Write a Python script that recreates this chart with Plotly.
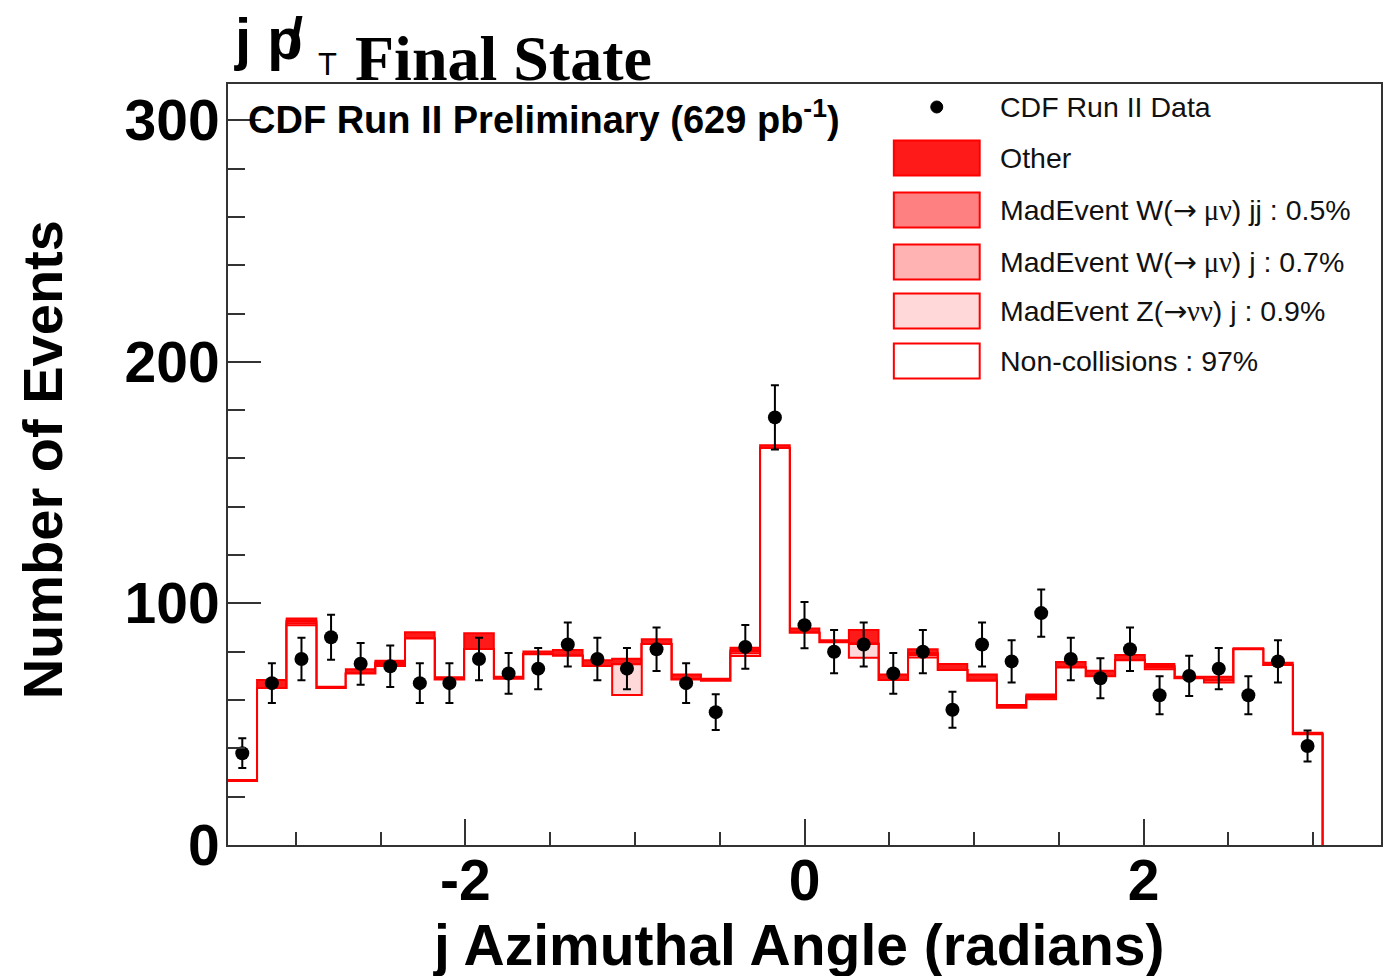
import numpy as np
import plotly.graph_objects as go

# ---------------- data ----------------
bin_range = (-3.403, 3.054)
n_bins = 37
data_counts = [38, 67, 77, 86, 75, 74, 67, 67, 77, 71, 73, 83, 77, 73, 81, 67, 55, 82, 177,
               91, 80, 83, 71, 80, 56, 83, 76, 96, 77, 69, 81, 62, 70, 73, 62, 76, 41]
noncoll = [26.5, 65.0, 91.0, 65.0, 71.0, 74.1, 85.5, 68.5, 81.1, 68.8, 79.0, 78.3, 74.1, 62.1,
           83.2, 68.5, 68.0, 78.2, 164.3, 87.9, 83.9, 77.5, 68.3, 77.6, 72.4, 68.0, 56.8, 60.3,
           73.5, 69.9, 76.5, 72.7, 69.0, 67.3, 81.0, 74.5, 45.8]
z_nunu = [0, 0, 0.8, 0, 0, 0.8, 0, 0, 0, 0, 0, 0, 0, 12.7, 0, 0, 0, 1.2, 0,
          0, 0, 5.7, 0, 1.0, 0, 0, 0, 0.7, 0, 0, 0, 0.8, 0, 0.8, 0, 0, 0]
w_j = [0, 0, 0.7, 0, 0, 0.5, 0, 0, 0, 0, 0, 0, 0, 0, 0, 0, 0, 0.8, 0,
       0, 0, 0, 0, 0.8, 0, 0, 0, 0.6, 0, 0, 0, 0.6, 0, 0, 0, 0, 0]
w_jj = [0, 0, 0.3, 0, 0, 0, 0, 0, 0, 0, 0, 0, 0, 0, 0, 0, 0, 0.4, 0,
        0, 0, 0.3, 0, 0, 0, 0, 0, 0, 0, 0, 0, 0, 0, 0, 0, 0, 0]
other = [0.4, 3.3, 1.0, 0.5, 1.7, 0.9, 2.6, 0.9, 6.5, 0.8, 1.1, 2.4, 2.4, 2.3, 2.0, 2.1, 0.8,
         1.0, 1.2, 1.7, 0.9, 5.5, 2.3, 1.6, 2.5, 2.6, 1.1, 0.7, 2.3, 2.2, 2.1, 0.8, 0.6, 1.5,
         0.4, 0.9, 0.7]

x_tickvals = [-2, 0, 2]
x_ticktext = ["-2", "0", "2"]
y_tickvals = [0, 100, 200, 300]
y_ticktext = ["0", "100", "200", "300"]

ARROW = "<span style=\"font-family:'DejaVu Sans'\">\u2192</span>"
GREEK = "<span style=\"font-family:'Liberation Serif'\">{}</span>"
legend_labels = [
    "CDF Run II Data",
    "Other",
    "MadEvent W(" + ARROW + GREEK.format(" \u03bc\u03bd") + ") jj : 0.5%",
    "MadEvent W(" + ARROW + GREEK.format(" \u03bc\u03bd") + ") j : 0.7%",
    "MadEvent Z(" + ARROW + GREEK.format("\u03bd\u03bd") + ") j : 0.9%",
    "Non-collisions : 97%",
]

# ---------------- styling ----------------
RED = "#ff0000"
col_other = "#ff1a1a"
col_wjj = "#ff8080"
col_wj = "#ffb3b3"
col_z = "#ffd9d9"
col_nc = "#ffffff"

W, H = 1391, 976
L, R, T, B = 228, 1383, 84, 845


def px2x(px):
    return (px - L) / (R - L)


def py2y(py):
    return (B - py) / (B - T)


edges = np.linspace(bin_range[0], bin_range[1], n_bins + 1)
centers = 0.5 * (edges[:-1] + edges[1:])

comps = [np.array(noncoll), np.array(z_nunu), np.array(w_j), np.array(w_jj), np.array(other)]
cum = np.cumsum(np.vstack(comps), axis=0)
fills = [col_nc, col_z, col_wj, col_wjj, col_other]

fig = go.Figure()

# draw from the top of the stack downward (ROOT THStack style)
for level in range(4, -1, -1):
    vals = cum[level]
    xs = list(edges) + [edges[-1]]
    ys = list(vals) + [vals[-1], 0]
    fig.add_trace(go.Scatter(
        x=xs, y=ys, mode="lines", line=dict(color=RED, width=2, shape="hv"),
        fill="tozeroy", fillcolor=fills[level], showlegend=False, hoverinfo="skip"))

data = np.array(data_counts, dtype=float)
fig.add_trace(go.Scatter(
    x=centers, y=data, mode="markers",
    marker=dict(color="black", size=14, symbol="circle"),
    error_y=dict(type="data", array=np.sqrt(data), color="black", thickness=2, width=4),
    showlegend=False))

font_sans = "Liberation Sans, Arial, sans-serif"

fig.update_layout(
    width=W, height=H,
    margin=dict(l=L, r=W - R, t=T, b=H - B, pad=0),
    paper_bgcolor="white", plot_bgcolor="white",
    showlegend=False,
    xaxis=dict(range=[-3.4, 3.4], showgrid=False, zeroline=False,
               showline=True, linecolor="#333333", linewidth=2, mirror=True,
               ticks="inside", ticklen=26, tickwidth=2, tickcolor="#333333",
               tickvals=x_tickvals, ticktext=x_ticktext, ticklabelstandoff=-15,
               tickfont=dict(family=font_sans, size=57, color="black", weight="bold"),
               minor=dict(dtick=0.5, tick0=0, ticks="inside", ticklen=13, tickwidth=2,
                          tickcolor="#333333", showgrid=False)),
    yaxis=dict(range=[0, 315], showgrid=False, zeroline=False,
               showline=True, linecolor="#333333", linewidth=2, mirror=True,
               ticks="inside", ticklen=33, tickwidth=2, tickcolor="#333333",
               tickvals=y_tickvals, ticktext=y_ticktext, ticklabelstandoff=-5,
               tickfont=dict(family=font_sans, size=57, color="black", weight="bold"),
               minor=dict(dtick=20, tick0=0, ticks="inside", ticklen=17, tickwidth=2,
                          tickcolor="#333333", showgrid=False)),
)

ann = []
# axis titles
ann.append(dict(text="<b>j Azimuthal Angle (radians)</b>", x=px2x(800), y=py2y(945),
                xref="paper", yref="paper", xanchor="center", yanchor="middle",
                showarrow=False, font=dict(family=font_sans, size=57, color="black")))
ann.append(dict(text="<b>Number of Events</b>", x=px2x(42), y=py2y(460), textangle=-90,
                xref="paper", yref="paper", xanchor="center", yanchor="middle",
                showarrow=False, font=dict(family=font_sans, size=56, color="black")))
# title pieces
ann.append(dict(text="<b>j p</b>", x=px2x(232), y=py2y(38),
                xref="paper", yref="paper", xanchor="left", yanchor="middle",
                showarrow=False, font=dict(family=font_sans, size=58, color="black")))
ann.append(dict(text="/", x=px2x(296), y=py2y(36),
                xref="paper", yref="paper", xanchor="center", yanchor="middle",
                showarrow=False, font=dict(family=font_sans, size=54, color="black",
                                           weight="bold")))
ann.append(dict(text="T", x=px2x(316), y=py2y(65),
                xref="paper", yref="paper", xanchor="left", yanchor="middle",
                showarrow=False, font=dict(family=font_sans, size=31, color="black")))
ann.append(dict(text="<b>Final State</b>", x=px2x(353), y=py2y(58),
                xref="paper", yref="paper", xanchor="left", yanchor="middle",
                showarrow=False, font=dict(family="Liberation Serif, Times New Roman, serif",
                                           size=64, color="black")))
# CDF label
ann.append(dict(text="<b>CDF Run II Preliminary (629 pb<sup>-1</sup>)</b>",
                x=px2x(246), y=py2y(117),
                xref="paper", yref="paper", xanchor="left", yanchor="middle",
                showarrow=False, font=dict(family=font_sans, size=38, color="black")))

# custom legend
row_y = [107, 158, 210, 262, 311, 361]
shapes = []
box_cols = [None, col_other, col_wjj, col_wj, col_z, col_nc]
for i, (lab, yc) in enumerate(zip(legend_labels, row_y)):
    ann.append(dict(text=lab, x=px2x(999), y=py2y(yc),
                    xref="paper", yref="paper", xanchor="left", yanchor="middle",
                    showarrow=False, font=dict(family=font_sans, size=28.5, color="#111111")))
    if box_cols[i] is None:
        shapes.append(dict(type="circle", xref="paper", yref="paper",
                           xsizemode="pixel", ysizemode="pixel",
                           xanchor=px2x(938), yanchor=py2y(yc),
                           x0=-6, x1=6, y0=-6, y1=6,
                           fillcolor="black", line=dict(color="black", width=1)))
    else:
        shapes.append(dict(type="rect", xref="paper", yref="paper",
                           x0=px2x(895), x1=px2x(981), y0=py2y(yc - 17.5), y1=py2y(yc + 17.5),
                           fillcolor=box_cols[i], line=dict(color=RED, width=2)))

fig.update_layout(annotations=ann, shapes=shapes)

fig.write_html("out.html")
